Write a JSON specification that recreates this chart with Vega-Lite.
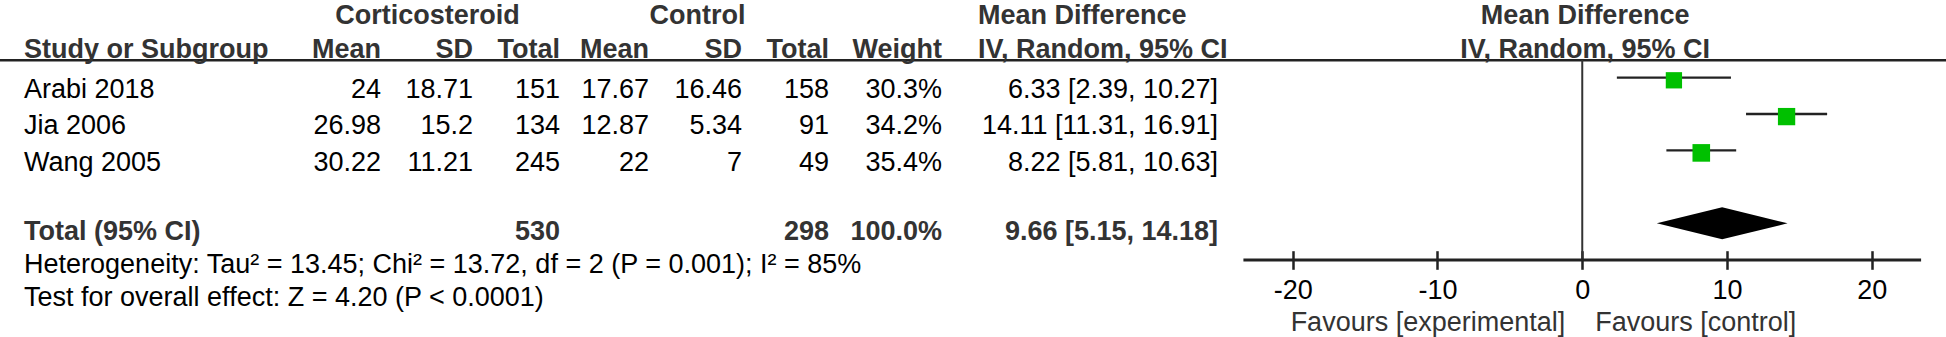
{
  "$schema": "https://vega.github.io/schema/vega-lite/v6.json",
  "width": 1946,
  "height": 337,
  "autosize": {"type": "none"},
  "padding": 0,
  "background": "white",
  "config": {
    "view": {"stroke": null},
    "text": {"font": "Liberation Sans", "fontSize": 27, "baseline": "middle", "color": "#000000"}
  },
  "datasets": {
    "studies": [
      {"study": "Arabi 2018", "row": 2, "mean_c": 24, "sd_c": 18.71, "n_c": 151, "mean_k": 17.67, "sd_k": 16.46, "n_k": 158, "weight": 0.303, "md": 6.33, "lo": 2.39, "hi": 10.27, "ci": "6.33 [2.39, 10.27]"},
      {"study": "Jia 2006", "row": 3, "mean_c": 26.98, "sd_c": 15.2, "n_c": 134, "mean_k": 12.87, "sd_k": 5.34, "n_k": 91, "weight": 0.342, "md": 14.11, "lo": 11.31, "hi": 16.91, "ci": "14.11 [11.31, 16.91]"},
      {"study": "Wang 2005", "row": 4, "mean_c": 30.22, "sd_c": 11.21, "n_c": 245, "mean_k": 22, "sd_k": 7, "n_k": 49, "weight": 0.354, "md": 8.22, "lo": 5.81, "hi": 10.63, "ci": "8.22 [5.81, 10.63]"}
    ],
    "total": [
      {"label": "Total (95% CI)", "row": 6, "n_c": 530, "n_k": 298, "weight": 1.0, "md": 9.66, "lo": 5.15, "hi": 14.18, "ci": "9.66 [5.15, 14.18]"}
    ],
    "diamond": [
      {"md": 5.15, "top": 0, "bottom": 0},
      {"md": 9.66, "top": -1, "bottom": 1},
      {"md": 14.18, "top": 0, "bottom": 0}
    ],
    "headers": [
      {"key": "cort", "row": 0, "label": "Corticosteroid"},
      {"key": "ctrl", "row": 0, "label": "Control"},
      {"key": "md1", "row": 0, "label": "Mean Difference"},
      {"key": "md2", "row": 0, "label": "Mean Difference"},
      {"key": "study", "row": 1, "label": "Study or Subgroup"},
      {"key": "m1", "row": 1, "label": "Mean"},
      {"key": "sd1", "row": 1, "label": "SD"},
      {"key": "t1", "row": 1, "label": "Total"},
      {"key": "m2", "row": 1, "label": "Mean"},
      {"key": "sd2", "row": 1, "label": "SD"},
      {"key": "t2", "row": 1, "label": "Total"},
      {"key": "w", "row": 1, "label": "Weight"},
      {"key": "iv1", "row": 1, "label": "IV, Random, 95% CI"},
      {"key": "iv2", "row": 1, "label": "IV, Random, 95% CI"}
    ],
    "notes": [
      {"row": 7, "label": "Heterogeneity: Tau² = 13.45; Chi² = 13.72, df = 2 (P = 0.001); I² = 85%"},
      {"row": 8, "label": "Test for overall effect: Z = 4.20 (P < 0.0001)"}
    ],
    "favours": [
      {"side": "left", "label": "Favours [experimental]"},
      {"side": "right", "label": "Favours [control]"}
    ]
  },
  "resolve": {"scale": {"y": "independent"}},
  "layer": [
    {
      "layer": [
        {
          "data": {"name": "headers"},
          "transform": [{"filter": "datum.key === 'study'"}],
          "mark": {"type": "rule", "color": "#222222", "strokeWidth": 2.5},
          "encoding": {
            "y": {"datum": 1.176, "type": "quantitative", "scale": {"domain": [-0.4848, 8.799], "reverse": true, "nice": false, "zero": false}, "axis": null}
          }
        },
        {
          "data": {"name": "studies"},
          "mark": {"type": "rule", "color": "#222222", "strokeWidth": 2.3, "yOffset": -12.5},
          "encoding": {
            "x": {"field": "lo", "type": "quantitative", "title": null,
              "scale": {"domain": [-109.27, 25.12], "nice": false, "zero": false},
              "axis": {"values": [-20, -10, 0, 10, 20], "orient": "bottom", "domain": false, "grid": false, "ticks": true, "tickSize": 18.6, "tickWidth": 2.5, "tickColor": "#222222", "offset": -86.3, "labelPadding": 8.5, "labelFont": "Liberation Sans", "labelFontSize": 27, "labelColor": "#000000", "labelFlush": false, "labelOverlap": false, "labelExpr": "'' + datum.value", "title": null}},
            "x2": {"field": "hi"},
            "y": {"field": "row", "type": "quantitative", "axis": null}
          }
        },
        {
          "data": {"name": "headers"},
          "transform": [{"filter": "datum.key === 'study'"}],
          "mark": {"type": "rule", "color": "#333333", "strokeWidth": 2},
          "encoding": {
            "x": {"datum": 0, "type": "quantitative", "title": null},
            "y": {"datum": 1.168, "type": "quantitative", "axis": null},
            "y2": {"datum": 6.678}
          }
        },
        {
          "data": {"name": "headers"},
          "transform": [{"filter": "datum.key === 'study'"}],
          "mark": {"type": "rule", "color": "#222222", "strokeWidth": 3},
          "encoding": {
            "x": {"datum": -23.4, "type": "quantitative", "title": null},
            "x2": {"datum": 23.4},
            "y": {"datum": 6.678, "type": "quantitative", "axis": null}
          }
        },
        {
          "data": {"name": "studies"},
          "mark": {"type": "point", "shape": "square", "filled": true, "color": "#00c000", "opacity": 1, "yOffset": -9.9},
          "encoding": {
            "x": {"field": "md", "type": "quantitative", "title": null},
            "y": {"field": "row", "type": "quantitative", "axis": null},
            "size": {"field": "weight", "type": "quantitative", "scale": {"domain": [0, 0.354], "range": [0, 310]}, "legend": null}
          }
        },
        {
          "data": {"name": "studies"},
          "mark": {"type": "text", "align": "left"},
          "encoding": {
            "x": {"datum": -107.61, "type": "quantitative", "title": null},
            "y": {"field": "row", "type": "quantitative", "axis": null},
            "text": {"field": "study", "type": "nominal"}
          }
        },
        {
          "data": {"name": "studies"},
          "mark": {"type": "text", "align": "right"},
          "encoding": {
            "x": {"datum": -82.96, "type": "quantitative", "title": null},
            "y": {"field": "row", "type": "quantitative", "axis": null},
            "text": {"field": "mean_c", "type": "nominal"}
          }
        },
        {
          "data": {"name": "studies"},
          "mark": {"type": "text", "align": "right"},
          "encoding": {
            "x": {"datum": -76.6, "type": "quantitative", "title": null},
            "y": {"field": "row", "type": "quantitative", "axis": null},
            "text": {"field": "sd_c", "type": "nominal"}
          }
        },
        {
          "data": {"name": "studies"},
          "mark": {"type": "text", "align": "right"},
          "encoding": {
            "x": {"datum": -70.59, "type": "quantitative", "title": null},
            "y": {"field": "row", "type": "quantitative", "axis": null},
            "text": {"field": "n_c", "type": "nominal"}
          }
        },
        {
          "data": {"name": "studies"},
          "mark": {"type": "text", "align": "right"},
          "encoding": {
            "x": {"datum": -64.45, "type": "quantitative", "title": null},
            "y": {"field": "row", "type": "quantitative", "axis": null},
            "text": {"field": "mean_k", "type": "nominal"}
          }
        },
        {
          "data": {"name": "studies"},
          "mark": {"type": "text", "align": "right"},
          "encoding": {
            "x": {"datum": -58.02, "type": "quantitative", "title": null},
            "y": {"field": "row", "type": "quantitative", "axis": null},
            "text": {"field": "sd_k", "type": "nominal"}
          }
        },
        {
          "data": {"name": "studies"},
          "mark": {"type": "text", "align": "right"},
          "encoding": {
            "x": {"datum": -52.02, "type": "quantitative", "title": null},
            "y": {"field": "row", "type": "quantitative", "axis": null},
            "text": {"field": "n_k", "type": "nominal"}
          }
        },
        {
          "data": {"name": "studies"},
          "mark": {"type": "text", "align": "right"},
          "encoding": {
            "x": {"datum": -44.21, "type": "quantitative", "title": null},
            "y": {"field": "row", "type": "quantitative", "axis": null},
            "text": {"field": "weight", "type": "quantitative", "format": ".1%"}
          }
        },
        {
          "data": {"name": "studies"},
          "mark": {"type": "text", "align": "right"},
          "encoding": {
            "x": {"datum": -25.15, "type": "quantitative", "title": null},
            "y": {"field": "row", "type": "quantitative", "axis": null},
            "text": {"field": "ci", "type": "nominal"}
          }
        },
        {
          "data": {"name": "total"},
          "mark": {"type": "text", "align": "left", "fontWeight": "bold", "color": "#333333", "dy": -3},
          "encoding": {
            "x": {"datum": -107.61, "type": "quantitative", "title": null},
            "y": {"field": "row", "type": "quantitative", "axis": null},
            "text": {"field": "label", "type": "nominal"}
          }
        },
        {
          "data": {"name": "total"},
          "mark": {"type": "text", "align": "right", "fontWeight": "bold", "color": "#333333", "dy": -3},
          "encoding": {
            "x": {"datum": -70.59, "type": "quantitative", "title": null},
            "y": {"field": "row", "type": "quantitative", "axis": null},
            "text": {"field": "n_c", "type": "nominal"}
          }
        },
        {
          "data": {"name": "total"},
          "mark": {"type": "text", "align": "right", "fontWeight": "bold", "color": "#333333", "dy": -3},
          "encoding": {
            "x": {"datum": -52.02, "type": "quantitative", "title": null},
            "y": {"field": "row", "type": "quantitative", "axis": null},
            "text": {"field": "n_k", "type": "nominal"}
          }
        },
        {
          "data": {"name": "total"},
          "mark": {"type": "text", "align": "right", "fontWeight": "bold", "color": "#333333", "dy": -3},
          "encoding": {
            "x": {"datum": -44.21, "type": "quantitative", "title": null},
            "y": {"field": "row", "type": "quantitative", "axis": null},
            "text": {"field": "weight", "type": "quantitative", "format": ".1%"}
          }
        },
        {
          "data": {"name": "total"},
          "mark": {"type": "text", "align": "right", "fontWeight": "bold", "color": "#333333", "dy": -3},
          "encoding": {
            "x": {"datum": -25.15, "type": "quantitative", "title": null},
            "y": {"field": "row", "type": "quantitative", "axis": null},
            "text": {"field": "ci", "type": "nominal"}
          }
        },
        {
          "data": {"name": "headers"},
          "transform": [{"filter": "datum.key === 'cort'"}],
          "mark": {"type": "text", "align": "center", "fontWeight": "bold", "color": "#333333", "dy": -1.2},
          "encoding": {
            "x": {"datum": -79.74, "type": "quantitative", "title": null},
            "y": {"field": "row", "type": "quantitative", "axis": null},
            "text": {"field": "label", "type": "nominal"}
          }
        },
        {
          "data": {"name": "headers"},
          "transform": [{"filter": "datum.key === 'ctrl'"}],
          "mark": {"type": "text", "align": "center", "fontWeight": "bold", "color": "#333333", "dy": -1.2},
          "encoding": {
            "x": {"datum": -61.1, "type": "quantitative", "title": null},
            "y": {"field": "row", "type": "quantitative", "axis": null},
            "text": {"field": "label", "type": "nominal"}
          }
        },
        {
          "data": {"name": "headers"},
          "transform": [{"filter": "datum.key === 'md1'"}],
          "mark": {"type": "text", "align": "left", "fontWeight": "bold", "color": "#333333", "dy": -1.2},
          "encoding": {
            "x": {"datum": -41.73, "type": "quantitative", "title": null},
            "y": {"field": "row", "type": "quantitative", "axis": null},
            "text": {"field": "label", "type": "nominal"}
          }
        },
        {
          "data": {"name": "headers"},
          "transform": [{"filter": "datum.key === 'md2'"}],
          "mark": {"type": "text", "align": "center", "fontWeight": "bold", "color": "#333333", "dy": -1.2},
          "encoding": {
            "x": {"datum": 0.2, "type": "quantitative", "title": null},
            "y": {"field": "row", "type": "quantitative", "axis": null},
            "text": {"field": "label", "type": "nominal"}
          }
        },
        {
          "data": {"name": "headers"},
          "transform": [{"filter": "datum.key === 'iv1'"}],
          "mark": {"type": "text", "align": "left", "fontWeight": "bold", "color": "#333333", "dy": -3.4},
          "encoding": {
            "x": {"datum": -41.73, "type": "quantitative", "title": null},
            "y": {"field": "row", "type": "quantitative", "axis": null},
            "text": {"field": "label", "type": "nominal"}
          }
        },
        {
          "data": {"name": "headers"},
          "transform": [{"filter": "datum.key === 'iv2'"}],
          "mark": {"type": "text", "align": "center", "fontWeight": "bold", "color": "#333333", "dy": -3.4},
          "encoding": {
            "x": {"datum": 0.2, "type": "quantitative", "title": null},
            "y": {"field": "row", "type": "quantitative", "axis": null},
            "text": {"field": "label", "type": "nominal"}
          }
        },
        {
          "data": {"name": "headers"},
          "transform": [{"filter": "datum.key === 'study'"}],
          "mark": {"type": "text", "align": "left", "fontWeight": "bold", "color": "#333333", "dy": -3.4},
          "encoding": {
            "x": {"datum": -107.61, "type": "quantitative", "title": null},
            "y": {"field": "row", "type": "quantitative", "axis": null},
            "text": {"field": "label", "type": "nominal"}
          }
        },
        {
          "data": {"name": "headers"},
          "transform": [{"filter": "datum.key === 'm1'"}],
          "mark": {"type": "text", "align": "right", "fontWeight": "bold", "color": "#333333", "dy": -3.4},
          "encoding": {
            "x": {"datum": -82.96, "type": "quantitative", "title": null},
            "y": {"field": "row", "type": "quantitative", "axis": null},
            "text": {"field": "label", "type": "nominal"}
          }
        },
        {
          "data": {"name": "headers"},
          "transform": [{"filter": "datum.key === 'sd1'"}],
          "mark": {"type": "text", "align": "right", "fontWeight": "bold", "color": "#333333", "dy": -3.4},
          "encoding": {
            "x": {"datum": -76.6, "type": "quantitative", "title": null},
            "y": {"field": "row", "type": "quantitative", "axis": null},
            "text": {"field": "label", "type": "nominal"}
          }
        },
        {
          "data": {"name": "headers"},
          "transform": [{"filter": "datum.key === 't1'"}],
          "mark": {"type": "text", "align": "right", "fontWeight": "bold", "color": "#333333", "dy": -3.4},
          "encoding": {
            "x": {"datum": -70.59, "type": "quantitative", "title": null},
            "y": {"field": "row", "type": "quantitative", "axis": null},
            "text": {"field": "label", "type": "nominal"}
          }
        },
        {
          "data": {"name": "headers"},
          "transform": [{"filter": "datum.key === 'm2'"}],
          "mark": {"type": "text", "align": "right", "fontWeight": "bold", "color": "#333333", "dy": -3.4},
          "encoding": {
            "x": {"datum": -64.45, "type": "quantitative", "title": null},
            "y": {"field": "row", "type": "quantitative", "axis": null},
            "text": {"field": "label", "type": "nominal"}
          }
        },
        {
          "data": {"name": "headers"},
          "transform": [{"filter": "datum.key === 'sd2'"}],
          "mark": {"type": "text", "align": "right", "fontWeight": "bold", "color": "#333333", "dy": -3.4},
          "encoding": {
            "x": {"datum": -58.02, "type": "quantitative", "title": null},
            "y": {"field": "row", "type": "quantitative", "axis": null},
            "text": {"field": "label", "type": "nominal"}
          }
        },
        {
          "data": {"name": "headers"},
          "transform": [{"filter": "datum.key === 't2'"}],
          "mark": {"type": "text", "align": "right", "fontWeight": "bold", "color": "#333333", "dy": -3.4},
          "encoding": {
            "x": {"datum": -52.02, "type": "quantitative", "title": null},
            "y": {"field": "row", "type": "quantitative", "axis": null},
            "text": {"field": "label", "type": "nominal"}
          }
        },
        {
          "data": {"name": "headers"},
          "transform": [{"filter": "datum.key === 'w'"}],
          "mark": {"type": "text", "align": "right", "fontWeight": "bold", "color": "#333333", "dy": -3.4},
          "encoding": {
            "x": {"datum": -44.21, "type": "quantitative", "title": null},
            "y": {"field": "row", "type": "quantitative", "axis": null},
            "text": {"field": "label", "type": "nominal"}
          }
        },
        {
          "data": {"name": "notes"},
          "transform": [{"filter": "datum.row === 7"}],
          "mark": {"type": "text", "align": "left", "dy": -7},
          "encoding": {
            "x": {"datum": -107.61, "type": "quantitative", "title": null},
            "y": {"field": "row", "type": "quantitative", "axis": null},
            "text": {"field": "label", "type": "nominal"}
          }
        },
        {
          "data": {"name": "notes"},
          "transform": [{"filter": "datum.row === 8"}],
          "mark": {"type": "text", "align": "left", "dy": -9.5},
          "encoding": {
            "x": {"datum": -107.61, "type": "quantitative", "title": null},
            "y": {"field": "row", "type": "quantitative", "axis": null},
            "text": {"field": "label", "type": "nominal"}
          }
        },
        {
          "data": {"name": "favours"},
          "transform": [{"filter": "datum.side === 'left'"}],
          "mark": {"type": "text", "align": "right", "dx": -17, "color": "#333333"},
          "encoding": {
            "x": {"datum": 0, "type": "quantitative", "title": null},
            "y": {"datum": 8.42, "type": "quantitative", "axis": null},
            "text": {"field": "label", "type": "nominal"}
          }
        },
        {
          "data": {"name": "favours"},
          "transform": [{"filter": "datum.side === 'right'"}],
          "mark": {"type": "text", "align": "left", "dx": 13, "color": "#333333"},
          "encoding": {
            "x": {"datum": 0, "type": "quantitative", "title": null},
            "y": {"datum": 8.42, "type": "quantitative", "axis": null},
            "text": {"field": "label", "type": "nominal"}
          }
        }
      ]
    },
    {
      "data": {"name": "diamond"},
      "mark": {"type": "area", "color": "#000000", "opacity": 1, "orient": "vertical"},
      "encoding": {
        "x": {"field": "md", "type": "quantitative", "title": null},
        "y": {"field": "top", "type": "quantitative", "scale": {"domain": [-13.956, 7.106], "reverse": true, "nice": false, "zero": false}, "axis": null},
        "y2": {"field": "bottom"}
      }
    }
  ]
}
